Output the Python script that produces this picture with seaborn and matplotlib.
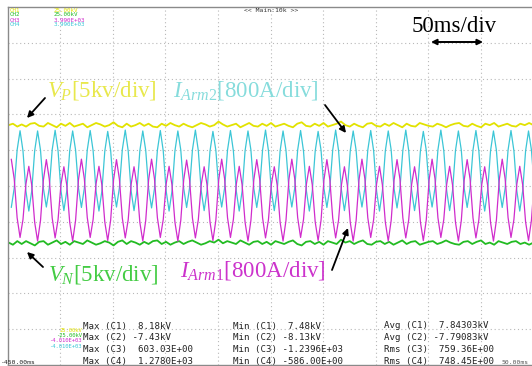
import numpy as np
import matplotlib
matplotlib.use("Agg")
import matplotlib.pyplot as plt
import seaborn as sns

# Scope screenshot: 10 x 10 divisions, 50 ms/div, traces
sns.set_style("white")
plt.rcParams['font.family'] = ['Liberation Serif', 'DejaVu Serif']
plt.rcParams['mathtext.fontset'] = 'custom'
plt.rcParams['mathtext.rm'] = 'Liberation Serif'
plt.rcParams['mathtext.it'] = 'Liberation Serif:italic'

T_MIN, T_MAX = -450.0, 50.0
V_DIV = 5.0      # kV/div
I_DIV = 800.0    # A/div

# arm currents, 6 samples per 60 Hz cycle, first sample at -446.4 ms (Arm2 trough)
i_arm2_a = [-480, -50, 805, 1235, 785, -110,   -560, -110, 785, 1230, 800, -55,
            -470, -45, 810, 1245, 790, -105,   -550, -105, 790, 1230, 805, -50,
            -480, -50, 805, 1240, 790, -110,   -560, -115, 780, 1220, 795, -55,
            -470, -40, 815, 1250, 790, -105,   -550, -105, 790, 1230, 800, -60,
            -490, -60, 800, 1240, 785, -110,   -560, -110, 785, 1230, 805, -50,
            -480, -45, 810, 1250, 790, -105,   -550, -110, 780, 1220, 800, -50,
            -470, -45, 805, 1240, 785, -115,   -560, -110, 785, 1230, 805, -55,
            -480, -50, 810, 1250, 790, -105,   -550, -105, 790, 1230, 800, -50,
            -470, -45, 805, 1240, 780, -115,   -560, -115, 780, 1220, 800, -55,
            -480, -50, 810, 1250, 790, -105,   -550, -105, 790, 1230, 800, -55,
            -470, -45, 805, 1240, 785, -110,   -560, -110, 785, 1230, 805, -60,
            -490, -55, 800, 1250, 790, -105,   -550, -110, 780, 1220, 800, -50,
            -470, -45, 810, 1250, 790, -105,   -550, -105, 790, 1230, 800, -55,
            -480, -50, 805, 1240, 785, -110,   -560, -110, 785, 1230, 805, -50,
            -480, -50, 805, 1240, 785, -110,   -560, -110, 785, 1230, 805, -50,
            -480]

i_arm1_a = [600, 160, -710, -1150, -750, 40,   440, 20, -810, -1230, -770, 140,
            590, 155, -715, -1160, -755, 35,   430, 15, -815, -1230, -770, 145,
            600, 160, -705, -1150, -750, 45,   440, 25, -805, -1220, -765, 140,
            590, 150, -720, -1160, -760, 35,   430, 15, -815, -1230, -775, 140,
            600, 160, -710, -1150, -750, 45,   440, 20, -810, -1230, -770, 135,
            580, 145, -720, -1160, -755, 35,   430, 20, -805, -1220, -765, 145,
            600, 160, -710, -1150, -750, 40,   440, 20, -810, -1230, -770, 140,
            590, 155, -715, -1160, -755, 35,   430, 15, -815, -1230, -770, 145,
            600, 160, -705, -1150, -750, 45,   440, 25, -805, -1220, -765, 140,
            590, 150, -720, -1160, -760, 35,   430, 15, -815, -1230, -775, 140,
            600, 160, -710, -1150, -750, 45,   440, 20, -810, -1230, -770, 135,
            590, 155, -715, -1160, -755, 35,   430, 20, -805, -1220, -765, 145,
            600, 160, -710, -1150, -750, 40,   440, 20, -810, -1230, -770, 140,
            590, 155, -715, -1160, -755, 35,   430, 15, -815, -1230, -770, 145,
            600, 160, -705, -1150, -750, 45,   440, 25, -805, -1220, -765, 140,
            590]

vp_kv = [8.5, 8.7, 8.3, 8.6, 8.3, 8.7, 8.8, 8.4, 8.3, 8.8, 8.5, 8.2, 8.7, 8.4, 8.8, 8.3, 8.5, 8.7, 8.2, 8.5, 8.8,
         8.6, 8.3, 8.5, 8.9, 8.4, 8.2, 8.7, 8.3, 8.5, 8.8, 8.4, 8.7, 8.3, 8.2, 8.7, 8.4, 8.8, 8.5, 8.3, 8.7, 8.4,
         8.2, 8.5, 8.8, 8.6, 8.3, 8.5, 9.0, 8.6, 8.3, 8.5, 8.7, 8.2, 8.5, 8.8, 8.4, 8.3, 8.7, 8.4, 8.8, 8.3, 8.5,
         8.7, 8.4, 8.2, 8.7, 8.9, 8.4, 8.3, 8.7, 8.4, 8.8, 8.3, 8.5, 8.7, 9.0, 8.5, 8.3, 8.7, 8.4, 8.2, 8.7, 8.8,
         8.4, 8.3, 8.7, 8.4, 8.8, 8.5, 8.2, 8.7, 8.4, 8.3, 8.8, 8.6, 8.4, 8.3, 8.7, 8.5, 8.2, 8.5, 8.7, 8.8, 8.4,
         8.3, 8.7, 8.4, 8.2, 8.7, 8.5, 8.8, 8.3, 8.5, 8.7, 8.4, 8.3, 8.7, 8.5, 8.8, 8.5]

vn_kv = [-7.9, -8.2, -7.7, -8.1, -7.7, -8.0, -8.3, -7.8, -7.7, -8.2, -7.9, -7.6, -8.1, -7.8, -8.2, -7.7, -7.9, -8.1, -7.6, -7.9, -8.2,
         -8.0, -7.7, -7.9, -8.3, -7.8, -7.6, -8.1, -7.7, -7.9, -8.2, -7.8, -8.1, -7.7, -7.6, -8.1, -7.8, -8.2, -7.9, -7.7, -8.1, -7.8,
         -7.6, -7.9, -8.2, -8.0, -7.7, -7.9, -7.5, -8.0, -7.7, -7.9, -8.1, -7.6, -7.9, -8.2, -7.8, -7.7, -8.1, -7.8, -8.2, -7.7, -7.9,
         -8.1, -7.8, -7.6, -8.1, -8.3, -7.8, -7.7, -8.1, -7.8, -8.2, -7.7, -7.9, -8.1, -7.5, -7.9, -7.7, -8.1, -7.8, -7.6, -8.1, -8.2,
         -7.8, -7.7, -8.1, -7.8, -8.2, -7.9, -7.6, -8.1, -7.8, -7.7, -8.2, -8.0, -7.8, -7.7, -8.1, -7.9, -7.6, -7.9, -8.1, -8.2, -7.8,
         -7.7, -8.1, -7.8, -7.6, -8.1, -7.9, -8.2, -7.7, -7.9, -8.1, -7.8, -7.7, -8.1, -7.9, -8.2, -7.9]

meas_max = ["Max (C1)  8.18kV", "Max (C2) -7.43kV", "Max (C3)  603.03E+00", "Max (C4)  1.2780E+03"]
meas_min = ["Min (C1)  7.48kV", "Min (C2) -8.13kV", "Min (C3) -1.2396E+03", "Min (C4) -586.00E+00"]
meas_avg = ["Avg (C1)  7.84303kV", "Avg (C2) -7.79083kV", "Rms (C3)  759.36E+00", "Rms (C4)  748.45E+00"]

YEL, GRN, CYA, MAG = '#e2e200', '#22bb22', '#3cc6d6', '#d02ccc'

W, H = 532, 366
fig = plt.figure(figsize=(W / 100, H / 100), dpi=100)
ax = fig.add_axes([7.5 / W, 1 / H, 526 / W, 358 / H])
ax.set_xlim(T_MIN, T_MAX)
ax.set_ylim(-5, 5)
ax.set_xticks(np.arange(-400, 50, 50))
ax.set_yticks(np.arange(-4, 5, 1))
ax.tick_params(length=0, labelbottom=False, labelleft=False)
ax.grid(True, color='#b8b8b8', linestyle=(0, (1, 2.5)), linewidth=0.8)
for s in ax.spines.values():
    s.set_color('#8a8a8a')
    s.set_linewidth(1.0)

# sample clocks of the scope (uniform time base)
t_noise = np.linspace(-449, T_MAX, len(vp_kv))
t_arm = np.linspace(-446.4, 53.6, len(i_arm2_a))

sns.lineplot(x=t_noise, y=np.array(vp_kv) / V_DIV, ax=ax, color=YEL, lw=1.3, estimator=None, sort=False)
sns.lineplot(x=t_noise, y=np.array(vn_kv) / V_DIV, ax=ax, color=GRN, lw=1.3, estimator=None, sort=False)
sns.lineplot(x=t_arm, y=np.array(i_arm2_a) / I_DIV, ax=ax, color=CYA, lw=0.9, estimator=None, sort=False)
sns.lineplot(x=t_arm, y=np.array(i_arm1_a) / I_DIV, ax=ax, color=MAG, lw=0.9, estimator=None, sort=False)


def px_text(x, y, s, **kw):
    fig.text(x / W, 1 - y / H, s, **kw)


# channel labels
FS = 16.5
px_text(47, 97, r'$V_P$[5kv/div]', color='#e8e84c', fontsize=FS, va='baseline')
px_text(173, 97, r'$I_{\mathit{Arm2}}$[800A/div]', color='#86dcdc', fontsize=FS, va='baseline')
px_text(48, 280, r'$V_N$[5kv/div]', color='#44cc44', fontsize=FS, va='baseline')
px_text(180, 276, r'$I_{\mathit{Arm1}}$[800A/div]', color='#cc33cc', fontsize=FS, va='baseline')
px_text(412, 32, '50ms/div', color='black', fontsize=FS, va='baseline')

arr = dict(arrowstyle='-|>', color='black', lw=1.3, mutation_scale=9, shrinkA=0, shrinkB=0)
for tail, head in [((45, 98), (27, 118)), ((325, 105), (346, 133)),
                   ((43, 267), (27, 252)), ((332, 270), (348, 228))]:
    ax.annotate('', xy=(head[0], H - head[1]), xytext=(tail[0], H - tail[1]),
                xycoords='figure pixels', textcoords='figure pixels', arrowprops=arr)
ax.annotate('', xy=(483, H - 42), xytext=(431, H - 42), xycoords='figure pixels',
            textcoords='figure pixels',
            arrowprops=dict(arrowstyle='<|-|>', color='black', lw=1.4, mutation_scale=8,
                            shrinkA=0, shrinkB=0))

# scope header and measurement readout
mono = dict(family='DejaVu Sans Mono', va='center')
for i, (lab, val, c) in enumerate([('CH1', '25.00kV', YEL), ('CH2', '25.00kV', GRN),
                                   ('CH3', '3.990E+03', MAG), ('CH4', '3.990E+03', CYA)]):
    px_text(10, 10 + i * 5, lab, color=c, fontsize=4.2, **mono)
    px_text(54, 10 + i * 5, val, color=c, fontsize=4.2, **mono)
px_text(271, 11, '<< Main:10k >>', color='#333333', fontsize=4.6, ha='center', **mono)

for i, (a, b, c) in enumerate(zip(meas_max, meas_min, meas_avg)):
    y = 326 + i * 11.7
    px_text(83, y, a, color='#222222', fontsize=6.6, **mono)
    px_text(233, y, b, color='#222222', fontsize=6.6, **mono)
    px_text(384, y, c, color='#222222', fontsize=6.6, **mono)
for y, s, c in [(331, '25.00kV', YEL), (335.5, '-25.00kV', GRN),
                (341, '-4.010E+03', MAG), (346, '-4.010E+03', CYA)]:
    px_text(82, y, s, color=c, fontsize=4.0, ha='right', **mono)
px_text(1, 362, '-450.00ms', color='#222222', fontsize=4.6, **mono)
px_text(502, 362, '50.00ms', color='#555555', fontsize=4.6, **mono)

fig.savefig('out.png', dpi=100)
